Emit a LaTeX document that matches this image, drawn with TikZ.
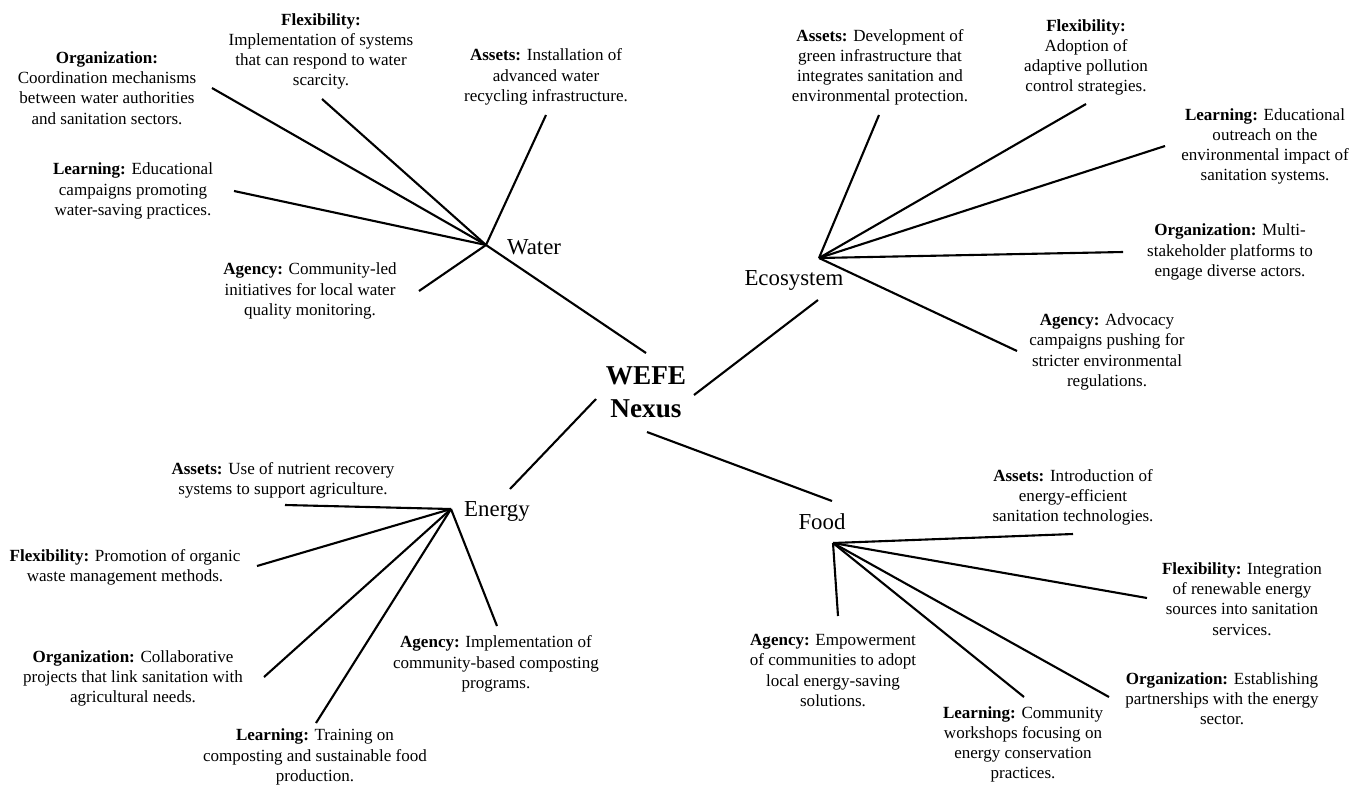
\documentclass[tikz,border=0pt]{standalone}
\usepackage{fontspec}
\setmainfont{Liberation Serif}
\tikzset{every picture/.style={x=0.02cm,y=-0.02cm},
  txt/.style={align=center,inner sep=0pt,font=\fontsize{9.7}{11.5}\selectfont},
  hub/.style={inner sep=0pt,font=\fontsize{13}{15}\selectfont},
  spoke/.style={line width=1.2pt}}
\begin{document}
\begin{tikzpicture}
            \useasboundingbox (0,0) rectangle (1362,785);
            \node[align=center,inner sep=0pt,font=\bfseries\fontsize{15.5}{18.8}\selectfont] (nexus) at (646,392) {WEFE\\Nexus};

            \node[hub] (water) at (534,247) {Water};
            \node[hub] (eco) at (794,280) {Ecosystem};
            \node[hub] (energy) at (497,511) {Energy};
            \node[hub] (food) at (822,522) {Food};

            % water
            \node[txt] (wOrg) at (107,88) {\textbf{Organization:}\\Coordination mechanisms\\between water authorities\\and sanitation sectors.};
            \node[txt] (wFlex) at (321,51.5) {\textbf{Flexibility:}\\Implementation of systems\\that can respond to water\\scarcity.};
            \node[txt] (wLearn) at (133,191) {\textbf{Learning:} Educational\\campaigns promoting\\water-saving practices.};
            \node[txt] (wAgency) at (310,291) {\textbf{Agency:} Community-led\\initiatives for local water\\quality monitoring.};
            \node[txt] (wAssets) at (546,77) {\textbf{Assets:} Installation of\\advanced water\\recycling infrastructure.};

            % ecosystem
            \node[txt] (eAssets) at (880,67.5) {\textbf{Assets:} Development of\\green infrastructure that\\integrates sanitation and\\environmental protection.};
            \node[txt] (eFlex) at (1086,57.5) {\textbf{Flexibility:}\\Adoption of\\adaptive pollution\\control strategies.};
            \node[txt] (eLearn) at (1265,146.5) {\textbf{Learning:} Educational\\outreach on the\\environmental impact of\\sanitation systems.};
            \node[txt] (eOrg) at (1230,252) {\textbf{Organization:} Multi-\\stakeholder platforms to\\engage diverse actors.};
            \node[txt] (eAgency) at (1107,352) {\textbf{Agency:} Advocacy\\campaigns pushing for\\stricter environmental\\regulations.};

            % energy
            \node[txt] (nAssets) at (283,480.5) {\textbf{Assets:} Use of nutrient recovery\\systems to support agriculture.};
            \node[txt] (nFlex) at (125,567.5) {\textbf{Flexibility:} Promotion of organic\\waste management methods.};
            \node[txt] (nOrg) at (133,678.5) {\textbf{Organization:} Collaborative\\projects that link sanitation with\\agricultural needs.};
            \node[txt] (nLearn) at (315,757) {\textbf{Learning:} Training on\\composting and sustainable food\\production.};
            \node[txt] (nAgency) at (496,664) {\textbf{Agency:} Implementation of\\community-based composting\\programs.};

            % food
            \node[txt] (fAssets) at (1073,497.5) {\textbf{Assets:} Introduction of\\energy-efficient\\sanitation technologies.};
            \node[txt] (fFlex) at (1242,599) {\textbf{Flexibility:} Integration\\of renewable energy\\sources into sanitation\\services.};
            \node[txt] (fOrg) at (1222,698.5) {\textbf{Organization:} Establishing\\partnerships with the energy\\sector.};
            \node[txt] (fLearn) at (1023,744.5) {\textbf{Learning:} Community\\workshops focusing on\\energy conservation\\practices.};
            \node[txt] (fAgency) at (833,670.5) {\textbf{Agency:} Empowerment\\of communities to adopt\\local energy-saving\\solutions.};

            % hubs and line ends
            \coordinate (wh) at (486,245);
            \coordinate (eh) at (819,258);
            \coordinate (nh) at (451,509);
            \coordinate (fh) at (833,543);
            \coordinate (wN) at (646,353);
            \coordinate (eA) at (818,300);
            \coordinate (eN) at (694,395);
            \coordinate (nA) at (596,399);
            \coordinate (nN) at (510,489);
            \coordinate (fA) at (647,432);
            \coordinate (fN) at (832,501);

            \coordinate (wOrgEnd) at (212,88);
            \coordinate (wFlexEnd) at (322,99);
            \coordinate (wLearnEnd) at (234,191);
            \coordinate (wAgencyEnd) at (419,291);
            \coordinate (wAssetsEnd) at (546,115);
            \coordinate (eAssetsEnd) at (879,115);
            \coordinate (eFlexEnd) at (1086,104);
            \coordinate (eLearnEnd) at (1165,146);
            \coordinate (eOrgEnd) at (1123,252);
            \coordinate (eAgencyEnd) at (1017,351);
            \coordinate (nAssetsEnd) at (285,505);
            \coordinate (nFlexEnd) at (257,566);
            \coordinate (nOrgEnd) at (264,677);
            \coordinate (nLearnEnd) at (316,723);
            \coordinate (nAgencyEnd) at (497,626);
            \coordinate (fAssetsEnd) at (1073,534);
            \coordinate (fFlexEnd) at (1147,598);
            \coordinate (fOrgEnd) at (1109,697);
            \coordinate (fLearnEnd) at (1024,697);
            \coordinate (fAgencyEnd) at (838,616);

            \foreach \from/\to in {wh/wN, eA/eN, nA/nN, fA/fN,
              wh/wOrgEnd, wh/wFlexEnd, wh/wLearnEnd, wh/wAgencyEnd, wh/wAssetsEnd,
              eh/eAssetsEnd, eh/eFlexEnd, eh/eLearnEnd, eh/eOrgEnd, eh/eAgencyEnd,
              nh/nAssetsEnd, nh/nFlexEnd, nh/nOrgEnd, nh/nLearnEnd, nh/nAgencyEnd,
              fh/fAssetsEnd, fh/fFlexEnd, fh/fOrgEnd, fh/fLearnEnd, fh/fAgencyEnd}
              \draw[spoke] (\from) -- (\to);
        \end{tikzpicture}
\end{document}
